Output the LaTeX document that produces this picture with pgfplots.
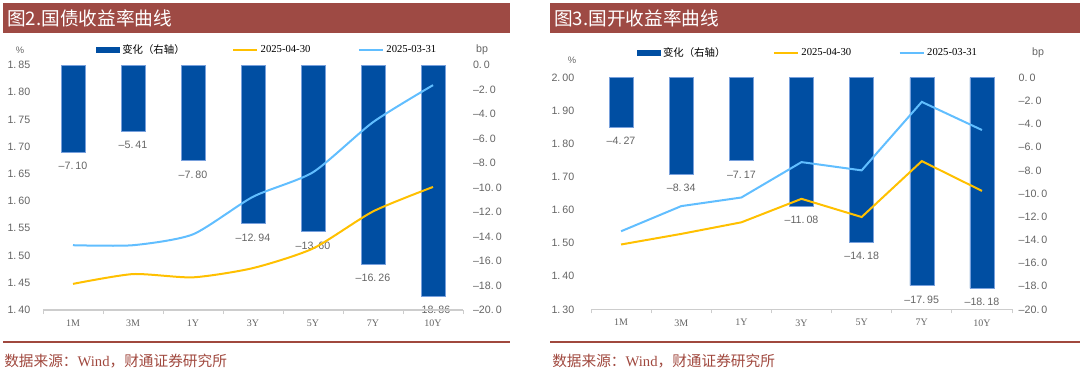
\documentclass[border=0pt]{standalone}
\usepackage{fontspec}
\usepackage{pgfplots}
\pgfplotsset{compat=1.18}
\setmainfont{Liberation Sans}
\newfontfamily\cjk{Noto Sans CJK SC}
\newfontfamily\serif{Liberation Serif}
\definecolor{barblue}{RGB}{0,78,162}
\definecolor{barline}{RGB}{120,160,220}
\definecolor{yel}{RGB}{255,192,0}
\definecolor{lblue}{RGB}{97,190,255}
\definecolor{labgray}{RGB}{100,100,100}
\definecolor{axgray}{RGB}{205,205,205}
\definecolor{titlered}{RGB}{158,74,68}
\definecolor{srcred}{RGB}{160,72,62}
\newcommand\signednum[2]{\pgfmathsetmacro\absval{abs(#1)}\ifdim #1pt<-0.001pt\textendash\fi\pgfmathprintnumber[fixed,zerofill,precision=#2,set decimal separator={.\hspace{1.5pt}}]{\absval}}
\pgfplotsset{
  common/.style={scale only axis, xmin=-0.5, xmax=6.5, clip=false,
    /pgf/number format/assume math mode=true},
  lineaxis/.style={common, axis x line*=bottom, axis y line*=left,
    x axis line style={draw=axgray, line width=0.8pt, -},
    y axis line style={draw=none},
    xtick={0,...,6}, xticklabels={1M,3M,1Y,3Y,5Y,7Y,10Y},
    minor xtick={-0.5,0.5,...,6.5},
    major tick length=0pt, minor tick length=3pt, tick align=outside,
    minor tick style={draw=axgray, line width=0.6pt},
    xticklabel style={font=\serif\fontsize{7.5}{8}\selectfont, text=labgray, yshift=-4pt},
    yticklabel style={font=\fontsize{8}{10}\selectfont, text=labgray},
    yticklabel={\signednum{\tick}{2}},
  },
  baraxis/.style={common, axis x line=none, axis y line*=right,
    y axis line style={draw=none},
    ymin=-20, ymax=0, ytick={-20,-18,-16,-14,-12,-10,-8,-6,-4,-2,0},
    major tick length=0pt,
    yticklabel style={font=\fontsize{8}{10}\selectfont, text=labgray},
    yticklabel={\signednum{\tick}{1}},
    ybar, bar width=18pt, bar shift=0pt,
    point meta={-y},
    nodes near coords={\textendash\pgfmathprintnumber[fixed,zerofill,precision=2,set decimal separator={.\hspace{1.5pt}}]{\pgfplotspointmeta}},
    nodes near coords style={font=\fontsize{8}{10}\selectfont, text=labgray, anchor=north, yshift=-4pt},
    legend columns=3,
    legend style={draw=none, fill=none, font=\serif\fontsize{8}{9}\selectfont, text=black,
      /tikz/every even column/.append style={column sep=33.5pt}},
  },
  barstyle/.style={fill=barblue, draw=barline, line width=0.4pt,
    legend image code/.code={\fill[barblue] (0pt,-2pt) rectangle (17pt,2pt);}},
  yline/.style={yel, line width=1.5pt, legend image code/.code={\draw (0pt,0pt) -- (18pt,0pt);}},
  bline/.style={lblue, line width=1.5pt, legend image code/.code={\draw (0pt,0pt) -- (18pt,0pt);}},
}
\begin{document}
\begin{tikzpicture}
\path[use as bounding box] (0,0) rectangle (810pt,279pt);
% title bars
\fill[titlered] (2.25pt,254.25pt) rectangle (382.5pt,276.75pt);
\fill[titlered] (412.5pt,254.25pt) rectangle (810pt,276.75pt);
\node[anchor=west, text=white, font=\cjk\fontsize{14}{16}\selectfont, inner sep=0pt] at (5.25pt,265.5pt) {图2.国债收益率曲线};
\node[anchor=west, text=white, font=\cjk\fontsize{14}{16}\selectfont, inner sep=0pt] at (415.5pt,265.5pt) {图3.国开收益率曲线};
% bottom rules and source
\draw[srcred, line width=1.1pt] (2.25pt,22.5pt) -- (382.5pt,22.5pt);
\draw[srcred, line width=1.1pt] (412.5pt,22.5pt) -- (810pt,22.5pt);
\node[anchor=west, text=srcred, font=\cjk\fontsize{11}{12}\selectfont, inner sep=0pt] at (3pt,8.25pt) {数据来源：\serif Wind\cjk，财通证券研究所};
\node[anchor=west, text=srcred, font=\cjk\fontsize{11}{12}\selectfont, inner sep=0pt] at (414pt,8.25pt) {数据来源：\serif Wind\cjk，财通证券研究所};
% unit labels
\node[text=labgray, font=\fontsize{7}{8}\selectfont] at (15pt,241.5pt) {\%};
\node[text=labgray, font=\fontsize{8}{9}\selectfont] at (361.5pt,241.5pt) {bp};
\node[text=labgray, font=\fontsize{7}{8}\selectfont] at (429pt,234pt) {\%};
\node[text=labgray, font=\fontsize{8}{9}\selectfont] at (778.5pt,239.25pt) {bp};

% ===== left panel =====
\begin{axis}[baraxis, at={(32.25pt,46.5pt)}, anchor=south west, width=315pt, height=183.75pt,
  legend style={at={(0.117,1.061)}, anchor=west},
  yticklabel style={xshift=4pt}]
\addplot[barstyle] coordinates {(0,-7.10) (1,-5.41) (2,-7.80) (3,-12.94) (4,-13.60) (5,-16.26) (6,-18.86)};
\addlegendentry{{\cjk\fontsize{7.8}{9}\selectfont 变化（右轴）}}
\addlegendimage{yline}
\addlegendentry{2025-04-30}
\addlegendimage{bline}
\addlegendentry{2025-03-31}
\end{axis}
\begin{axis}[lineaxis, at={(32.25pt,46.5pt)}, anchor=south west, width=315pt, height=183.75pt,
  ymin=1.40, ymax=1.85, ytick={1.40,1.45,1.50,1.55,1.60,1.65,1.70,1.75,1.80,1.85},
  yticklabel style={xshift=-6pt}]
\addplot[yline, smooth, tension=0.4] coordinates {(0,1.448) (1,1.466) (2,1.460) (3,1.477) (4,1.513) (5,1.581) (6,1.626)};
\addplot[bline, smooth, tension=0.4] coordinates {(0,1.519) (1,1.519) (2,1.539) (3,1.608) (4,1.653) (5,1.745) (6,1.813)};
\end{axis}

% ===== right panel =====
\begin{axis}[baraxis, at={(443.25pt,47pt)}, anchor=south west, width=315.75pt, height=173.7pt,
  legend style={at={(0.0995,1.107)}, anchor=west},
  yticklabel style={xshift=1.5pt}]
\addplot[barstyle] coordinates {(0,-4.27) (1,-8.34) (2,-7.17) (3,-11.08) (4,-14.18) (5,-17.95) (6,-18.18)};
\addlegendentry{{\cjk\fontsize{7.8}{9}\selectfont 变化（右轴）}}
\addlegendimage{yline}
\addlegendentry{2025-04-30}
\addlegendimage{bline}
\addlegendentry{2025-03-31}
\end{axis}
\begin{axis}[lineaxis, at={(443.25pt,47pt)}, anchor=south west, width=315.75pt, height=173.7pt,
  ymin=1.30, ymax=2.00, ytick={1.30,1.40,1.50,1.60,1.70,1.80,1.90,2.00},
  yticklabel style={xshift=-9pt}]
\addplot[yline] coordinates {(0,1.496) (1,1.528) (2,1.563) (3,1.634) (4,1.579) (5,1.748) (6,1.658)};
\addplot[bline] coordinates {(0,1.536) (1,1.612) (2,1.638) (3,1.745) (4,1.720) (5,1.927) (6,1.842)};
\end{axis}
\end{tikzpicture}
\end{document}
